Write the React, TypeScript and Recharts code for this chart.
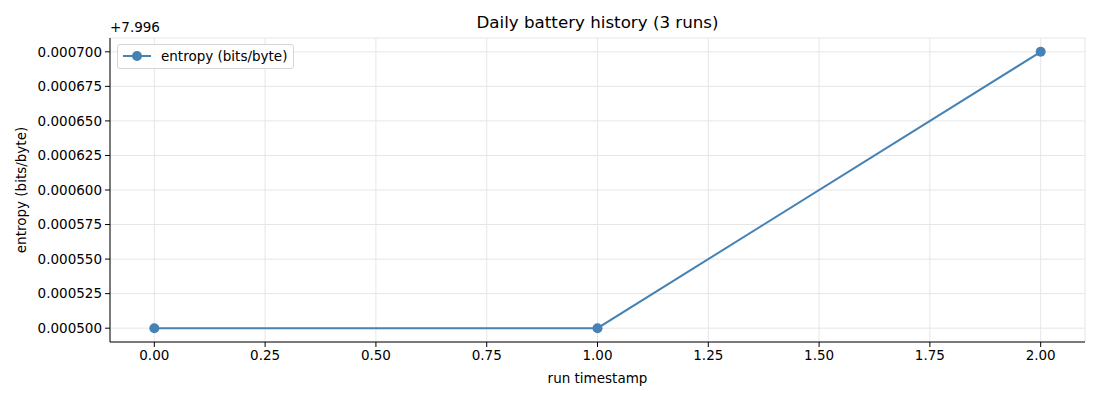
import React from 'react';
import { LineChart, Line, XAxis, YAxis, CartesianGrid } from 'recharts';

// runs (x) and entropy values
const runs = [0, 1, 2];
const entropy = [7.9965, 7.9965, 7.9967];
const yOffset = 7.996;

const xTicks = [0, 0.25, 0.5, 0.75, 1, 1.25, 1.5, 1.75, 2];
const yTicks = [0.0005, 0.000525, 0.00055, 0.000575, 0.0006, 0.000625, 0.00065, 0.000675, 0.0007];

const data = runs.map((r, i) => ({ run: r, entropy: entropy[i] - yOffset }));

const font = '"DejaVu Sans", sans-serif';
const fs = 13.5;
const lineColor = '#4682b4';

const LegendBox = () => (
  <div
    style={{
      position: 'absolute',
      top: 44,
      left: 117,
      display: 'flex',
      alignItems: 'center',
      border: '1px solid #d5d5d5',
      borderRadius: 3,
      background: 'rgba(255,255,255,0.8)',
      padding: '3px 6px 4px 5px',
      fontSize: fs,
      color: '#000',
    }}
  >
    <svg width={28} height={12} style={{ marginRight: 10 }}>
      <line x1={0} y1={6} x2={28} y2={6} stroke={lineColor} strokeWidth={2} />
      <circle cx={14} cy={6} r={5} fill={lineColor} />
    </svg>
    <span>entropy (bits/byte)</span>
  </div>
);

export default function App() {
  return (
    <div style={{ position: 'absolute', top: 0, left: 0, width: 1100, height: 400, background: '#fff', fontFamily: font }}>
      <LineChart width={1100} height={400} data={data} margin={{ top: 38, right: 15, bottom: 13, left: 0 }}>
        <CartesianGrid stroke="#e6e6e6" strokeWidth={1} />
        <XAxis
          dataKey="run"
          type="number"
          domain={[-0.1, 2.1]}
          ticks={xTicks}
          tickFormatter={(v: number) => v.toFixed(2)}
          height={45}
          tick={{ fill: '#000', fontSize: fs, fontFamily: font }}
          tickSize={5}
          tickMargin={3}
          axisLine={{ stroke: '#000' }}
          tickLine={{ stroke: '#000' }}
          label={{ value: 'run timestamp', position: 'insideBottom', offset: 4, fill: '#000', fontSize: fs, fontFamily: font }}
        />
        <YAxis
          type="number"
          domain={[0.00049, 0.00071]}
          ticks={yTicks}
          tickFormatter={(v: number) => v.toFixed(6)}
          width={110}
          tick={{ fill: '#000', fontSize: fs, fontFamily: font }}
          tickSize={5}
          tickMargin={3}
          axisLine={{ stroke: '#000' }}
          tickLine={{ stroke: '#000' }}
          allowDataOverflow
          label={{
            value: 'entropy (bits/byte)',
            angle: -90,
            position: 'insideLeft',
            offset: 21,
            fill: '#000',
            fontSize: fs,
            fontFamily: font,
            style: { textAnchor: 'middle' },
          }}
        />
        <Line
          dataKey="entropy"
          stroke={lineColor}
          strokeWidth={2}
          dot={{ r: 5, fill: lineColor, stroke: lineColor, strokeWidth: 0 }}
          activeDot={false}
          isAnimationActive={false}
        />
      </LineChart>
      <div style={{ position: 'absolute', top: 12, left: 0, width: 1195, textAlign: 'center', fontSize: 16.7, color: '#000' }}>
        Daily battery history (3 runs)
      </div>
      <div style={{ position: 'absolute', top: 19, left: 110, fontSize: fs, color: '#000' }}>+7.996</div>
      <LegendBox />
    </div>
  );
}
